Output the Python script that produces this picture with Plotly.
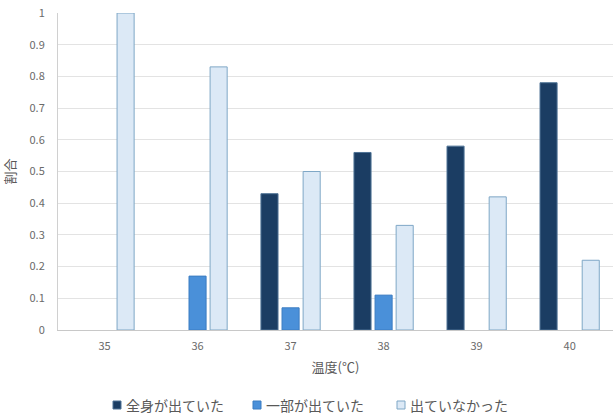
import plotly.graph_objects as go

categories = ["35", "36", "37", "38", "39", "40"]
series_names = ["全身が出ていた", "一部が出ていた", "出ていなかった"]
zenshin = [0, 0, 0.43, 0.56, 0.58, 0.78]
ichibu = [0, 0.17, 0.07, 0.11, 0, 0]
denai = [1.0, 0.83, 0.50, 0.33, 0.42, 0.22]

fills = ["#1b3d63", "#4a90d9", "#dce9f6"]
lines = ["#4f7396", "#3b7cc2", "#7fa7c6"]

FONT = "Noto Sans CJK JP"
fig = go.Figure()
for name, vals, fc, lc in zip(series_names, [zenshin, ichibu, denai], fills, lines):
    fig.add_trace(go.Bar(
        x=categories, y=vals, name=name, showlegend=False,
        marker=dict(color=fc, line=dict(color=lc, width=[1 if v > 0 else 0 for v in vals])),
    ))

# custom legend (square swatch + text), centred below the chart
legend_x = [113, 253, 397]
for name, fc, lc, lx in zip(series_names, fills, lines, legend_x):
    fig.add_shape(type="rect", xref="paper", yref="paper",
                  x0=(lx - 58) / 555, x1=(lx + 8 - 58) / 555,
                  y0=-(401 - 330) / 317 - 8 / 317, y1=-(401 - 330) / 317,
                  fillcolor=fc, line=dict(color=lc, width=1))
    fig.add_annotation(xref="paper", yref="paper", x=(lx + 11 - 58) / 555,
                       y=-(405 - 330) / 317, xanchor="left", yanchor="middle",
                       text=name, showarrow=False,
                       font=dict(family=FONT, size=14, color="#595959"))

fig.update_layout(
    width=613, height=416,
    margin=dict(l=58, r=0, t=13, b=86),
    paper_bgcolor="white", plot_bgcolor="white",
    barmode="group", bargap=0.32, bargroupgap=0.19,
    font=dict(family=FONT, size=11, color="#595959"),
    showlegend=False,
    xaxis=dict(
        type="category", range=[-0.5, 5.466],
        showline=True, linecolor="#c8c8c8", linewidth=1,
        ticks="", tickfont=dict(size=11, color="#6a6a6a"), ticklabelstandoff=6,
        title=dict(text="温度(℃)", font=dict(size=13, color="#595959"), standoff=10),
    ),
    yaxis=dict(
        range=[0, 1], dtick=0.1, tickformat="~g",
        showgrid=True, gridcolor="#e3e3e3", gridwidth=1,
        showline=True, linecolor="#d0d0d0", linewidth=1,
        zeroline=False, ticks="", ticklabelstandoff=10,
        tickfont=dict(size=11, color="#6a6a6a"),
        title=dict(text="割合", font=dict(size=13, color="#595959"), standoff=11),
    ),
)

fig.write_html("out.html")
